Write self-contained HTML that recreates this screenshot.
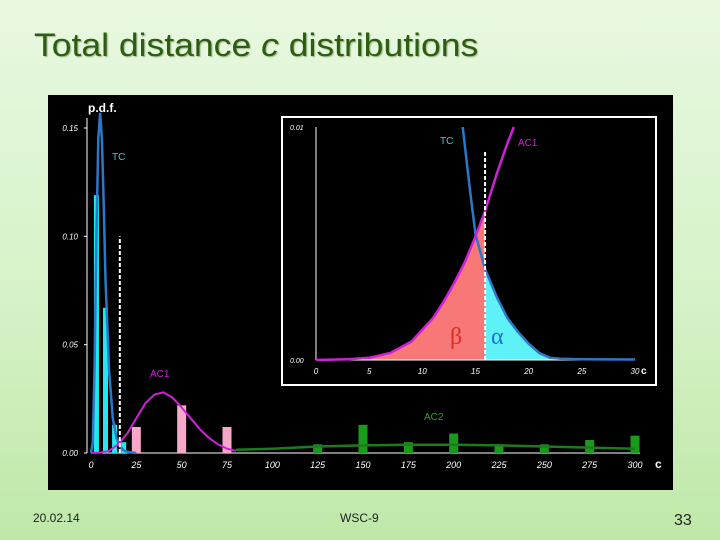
<!DOCTYPE html>
<html><head><meta charset="utf-8"><style>
html,body{margin:0;padding:0}
body{width:720px;height:540px;overflow:hidden;position:relative;background:linear-gradient(180deg,#e8f8e0 0%,#d6f2c8 55%,#bfe8a8 100%);font-family:"Liberation Sans",sans-serif}
#title{position:absolute;left:34px;top:29px;font-size:32px;line-height:1;color:#2e5d12;text-shadow:1px 1px 1px #9fb98f;margin:0;font-weight:normal;transform:scaleX(1.11);transform-origin:0 0;white-space:nowrap}
.foot{position:absolute;font-size:12px;color:#222}
</style></head><body>
<h1 id="title">Total distance <i>c</i> distributions</h1>
<svg id="chart" width="720" height="540" style="position:absolute;left:0;top:0" font-family="Liberation Sans, sans-serif"></svg>
<div class="foot" style="left:33px;top:511px">20.02.14</div>
<div class="foot" style="left:340px;top:511px">WSC-9</div>
<div class="foot" style="left:674px;top:512px;font-size:16px">33</div>
<script>
// main chart data
const tcBarC=[3,8,13,18];
const tcBarV=[0.119,0.067,0.013,0.005];
const ac1BarC=[25,50,75];
const ac1BarV=[0.012,0.022,0.012];
const ac2BarC=[125,150,175,200,225,250,275,300];
const ac2BarV=[0.004,0.013,0.005,0.009,0.004,0.004,0.006,0.008];
const tcC=[0,1,2,3,4,5,6,7,8,10,12,14,16,18,20,25];
const tcV=[0,0.005,0.04,0.1,0.145,0.157,0.145,0.115,0.08,0.038,0.016,0.007,0.003,0.0012,0.0005,0];
const ac1C=[0,5,10,15,20,25,30,35,40,45,50,55,60,65,70,75,80];
const ac1V=[0,0.0002,0.001,0.004,0.009,0.016,0.023,0.027,0.028,0.0255,0.021,0.016,0.011,0.007,0.004,0.002,0.001];
const ac2C=[80,100,125,150,175,200,225,250,275,300];
const ac2V=[0.0015,0.002,0.003,0.0035,0.0038,0.0038,0.0035,0.003,0.0025,0.002];
const xTicks=[0,25,50,75,100,125,150,175,200,225,250,275,300];
const yTicks=[0,0.05,0.10,0.15];
const yTickLabels=["0.00","0.05","0.10","0.15"];
const cutoff=15.9;
// inset data
const inTcC=[13.8,14.5,15,15.9,17,18,19,20,21,22,23,25,30];
const inTcV=[0.01,0.0072,0.0054,0.0039,0.0027,0.0018,0.0012,0.0007,0.0003,0.0001,0.00005,0.00003,0.00002];
const inAcC=[0,3,5,7,9,10,11,12,13,14,15,15.9,17,18,18.6];
const inAcV=[0,0.00003,0.0001,0.0003,0.0008,0.0013,0.0018,0.0025,0.0033,0.0042,0.0053,0.0064,0.008,0.0093,0.01];
const inXTicks=[0,5,10,15,20,25,30];

const svg=document.getElementById('chart');
const NS='http://www.w3.org/2000/svg';
function mk(tag,attrs,parent){const e=document.createElementNS(NS,tag);for(const k in attrs)e.setAttribute(k,attrs[k]);(parent||svg).appendChild(e);return e;}
const X=c=>91+c*(635-91)/300;
const Y=v=>453-v*(453-128)/0.15;
const IX=c=>316+c*(635-316)/30;
const IY=v=>360-v*(360-127)/0.01;
function pathOf(cs,vs,fx,fy){return cs.map((c,i)=>(i?'L':'M')+fx(c).toFixed(1)+','+fy(vs[i]).toFixed(1)).join(' ');}

let e=mk('rect',{x:48,y:95,width:625,height:395,fill:'#000'});



// axes
e=mk('line',{x1:91,y1:453,x2:640,y2:453,stroke:'#fff','stroke-width':1});


e=mk('line',{x1:87,y1:453,x2:87,y2:118,stroke:'#fff','stroke-width':1});


xTicks.forEach(t=>{
  e=mk('text',{x:X(t),y:468,fill:'#fff','font-size':9,'font-style':'italic','text-anchor':'middle'});e.textContent=t;
  
  
});
yTicks.forEach((t,i)=>{
  e=mk('text',{x:78,y:Y(t)+3,fill:'#fff','font-size':8,'font-style':'italic','text-anchor':'end'});e.textContent=yTickLabels[i];
  
  
  mk('line',{x1:84,x2:87,y1:Y(t),y2:Y(t),stroke:'#fff'});
});
e=mk('text',{x:88,y:112,fill:'#fff','font-size':12,'font-weight':'bold'});e.textContent='p.d.f.';


e=mk('text',{x:655,y:468,fill:'#fff','font-size':12,'font-weight':'bold'});e.textContent='c';



// bars
function bars(cs,vs,w,color,name){cs.forEach((c,i)=>{
  const b=mk('rect',{x:X(c)-w/2,y:Y(vs[i]),width:w,height:453-Y(vs[i]),fill:color});
  
  
});}
bars(tcBarC,tcBarV,5,'#22e8f0','tc-bar');
bars(ac1BarC,ac1BarV,9,'#f7a8c8','ac1-bar');
bars(ac2BarC,ac2BarV,9,'#1a9a1a','ac2-bar');

// curves
e=mk('path',{d:pathOf(tcC,tcV,X,Y),fill:'none',stroke:'#2a78c8','stroke-width':2.5});


e=mk('path',{d:pathOf(ac1C,ac1V,X,Y),fill:'none',stroke:'#d020d8','stroke-width':2});


e=mk('path',{d:pathOf(ac2C,ac2V,X,Y),fill:'none',stroke:'#1e7a1e','stroke-width':2.5});


e=mk('line',{x1:X(cutoff),x2:X(cutoff),y1:Y(0),y2:Y(0.10),stroke:'#fff','stroke-width':2,'stroke-dasharray':'4,2'});


[['TC',112,160,'#30d0d0','tc-label'],['AC1',150,377,'#d020d8','ac1-label'],['AC2',424,420,'#2aa02a','ac2-label']].forEach(l=>{
  e=mk('text',{x:l[1],y:l[2],fill:l[3],'font-size':10});e.textContent=l[0];
  
  
});

// inset
e=mk('rect',{x:282,y:117,width:374,height:268,fill:'#000',stroke:'#fff','stroke-width':2});


const iAcIdx=inAcC.filter(c=>c<=cutoff);
let d='M'+IX(0)+','+IY(0)+' '+iAcIdx.map((c,i)=>'L'+IX(c).toFixed(1)+','+IY(inAcV[i]).toFixed(1)).join(' ')+' L'+IX(cutoff)+','+IY(0)+' Z';
e=mk('path',{d:d,fill:'#f87878'});


const tcR=inTcC.map((c,i)=>[c,inTcV[i]]).filter(p=>p[0]>=cutoff);
d='M'+IX(cutoff)+','+IY(0)+' '+tcR.map(p=>'L'+IX(p[0]).toFixed(1)+','+IY(p[1]).toFixed(1)).join(' ')+' L'+IX(30)+','+IY(0)+' Z';
e=mk('path',{d:d,fill:'#5ef2f8'});


e=mk('line',{x1:IX(0),x2:IX(30),y1:IY(0),y2:IY(0),stroke:'#fff'});


e=mk('line',{x1:316,x2:316,y1:IY(0),y2:IY(0.01),stroke:'#fff'});


e=mk('path',{d:pathOf(inTcC,inTcV,IX,IY),fill:'none',stroke:'#2a78c8','stroke-width':2.5});


e=mk('path',{d:pathOf(inAcC,inAcV,IX,IY),fill:'none',stroke:'#d020d8','stroke-width':2.5});


e=mk('line',{x1:IX(cutoff),x2:IX(cutoff),y1:IY(0),y2:IY(0.009),stroke:'#fff','stroke-width':2,'stroke-dasharray':'4,2'});


inXTicks.forEach(t=>{
  e=mk('text',{x:IX(t),y:374,fill:'#fff','font-size':8,'font-style':'italic','text-anchor':'middle'});e.textContent=t;
  
  
});
[['0.00',IY(0)+3],['0.01',IY(0.01)+3]].forEach(p=>{
  e=mk('text',{x:290,y:p[1],fill:'#fff','font-size':7,'font-style':'italic'});e.textContent=p[0];
  
  
});
e=mk('text',{x:641,y:374,fill:'#fff','font-size':10,'font-weight':'bold'});e.textContent='c';


[['TC',440,144,'#30d0d0',10,'inset-tc-label'],['AC1',518,146,'#d020d8',10,'inset-ac1-label']].forEach(l=>{
  e=mk('text',{x:l[1],y:l[2],fill:l[3],'font-size':l[4]});e.textContent=l[0];
  
  
});
e=mk('text',{x:450,y:344,fill:'#d83020','font-size':24,'font-family':'Liberation Serif, serif'});e.textContent='β';


e=mk('text',{x:491,y:344,fill:'#1e6fd8','font-size':24,'font-family':'Liberation Serif, serif'});e.textContent='α';


</script>
</body></html>
